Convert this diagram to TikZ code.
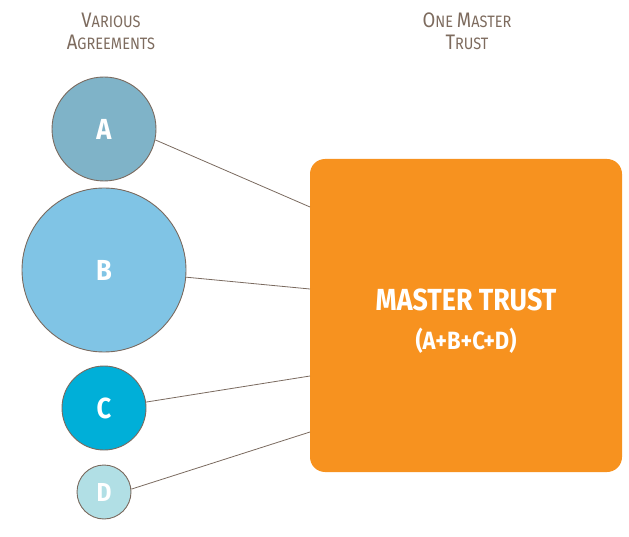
\documentclass[tikz,border=0pt]{standalone}
\usepackage{fontspec}
\setmainfont[FakeStretch=0.88]{Fira Sans}
\definecolor{headc}{HTML}{7D6B5E}
\definecolor{linec}{HTML}{7A6A5F}
\definecolor{cA}{HTML}{7FB3C8}
\definecolor{cB}{HTML}{80C4E5}
\definecolor{cC}{HTML}{00AFD8}
\definecolor{cD}{HTML}{B1DFE5}
\definecolor{orng}{HTML}{F7921F}
\begin{document}
\begin{tikzpicture}[x=1pt,y=-1pt,
  agree/.style={circle,draw=linec,line width=0.9pt,inner sep=0pt,text=white,font=\bfseries\fontsize{29}{32}\selectfont},
  conn/.style={draw=linec,line width=0.8pt},
  head/.style={text=headc,align=center,inner sep=0pt,font=\fontsize{16.5}{22}\selectfont},
]
\useasboundingbox (0,0) rectangle (629,537);
\newcommand{\hbig}[1]{{\fontsize{21}{22}\selectfont #1}}
\node[head] (h1) at (111,20) {\hbig{V}ARIOUS};
\node[head] (h2) at (111,42) {\hbig{A}GREEMENTS};
\node[head] (h3) at (467,20) {\hbig{O}NE \hbig{M}ASTER};
\node[head] (h4) at (467,42) {\hbig{T}RUST};
\node[fill=orng,rounded corners=15pt,minimum width=312pt,minimum height=313pt,inner sep=0pt] (mt) at (466,315.5) {};
\node[text=white,font=\bfseries\fontsize{30.5}{32}\selectfont,inner sep=0pt] (t1) at (466,300) {MASTER TRUST};
\node[text=white,font=\bfseries\fontsize{25}{28}\selectfont,inner sep=0pt] (t2) at (466,341) {(A+B+C+D)};
\node[agree,fill=cA,minimum size=104pt] (A) at (104,129) {A};
\node[agree,fill=cB,minimum size=164pt] (B) at (104,270) {B};
\node[agree,fill=cC,minimum size=84pt] (C) at (104,408) {C};
\node[agree,fill=cD,minimum size=54pt,font=\bfseries\fontsize{26}{28}\selectfont] (D) at (104,492) {D};
\coordinate (pA) at (310,207);
\coordinate (pB) at (310,289);
\coordinate (pC) at (310,376);
\coordinate (pD) at (310,432);
\draw[conn] (A.-12) -- (pA);
\draw[conn] (B.-5) -- (pB);
\draw[conn] (C.8) -- (pC);
\draw[conn] (D.6) -- (pD);
\end{tikzpicture}
\end{document}
